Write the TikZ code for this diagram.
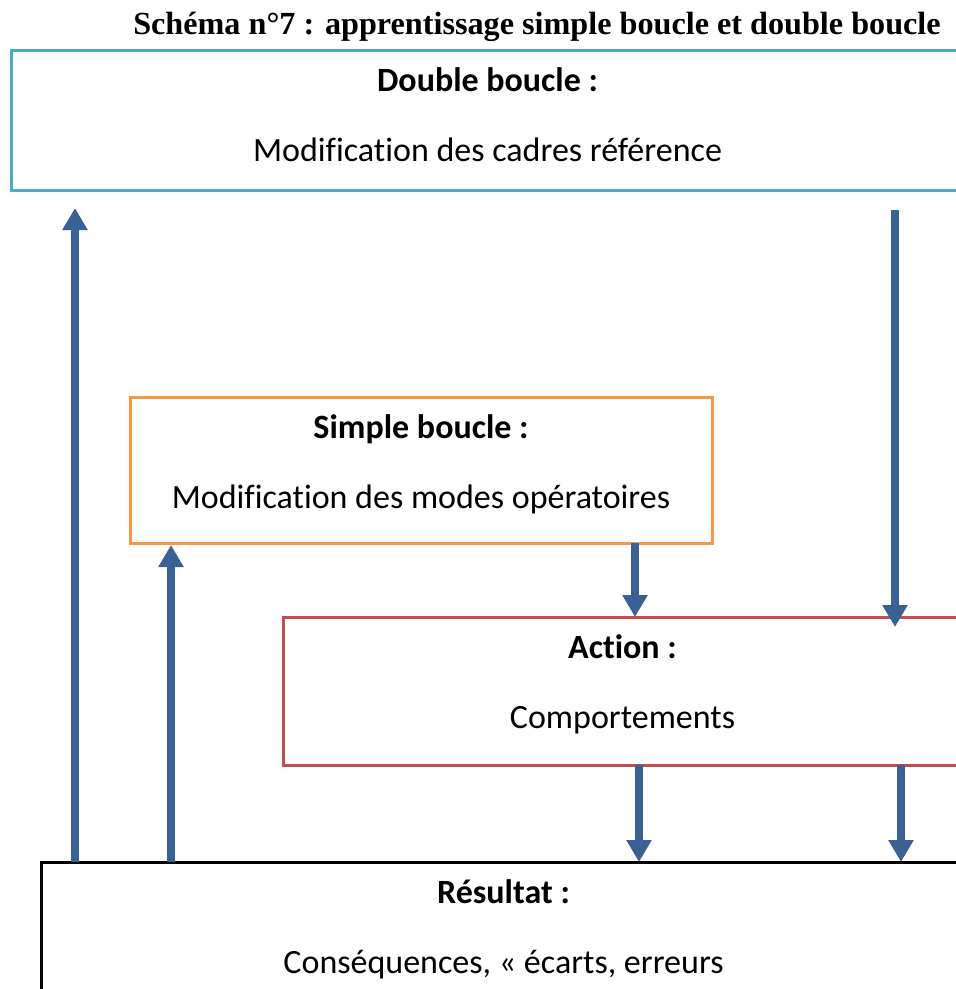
\documentclass[tikz,border=0pt]{standalone}
\usepackage{fontspec}
\setmainfont{Carlito}[Ligatures={NoCommon}]
\newfontfamily\titlefont{Liberation Serif}
\usetikzlibrary{arrows.meta, positioning}
\definecolor{doubleblue}{RGB}{75,172,198}
\definecolor{simpleorange}{RGB}{247,150,70}
\definecolor{actionred}{RGB}{192,80,77}
\definecolor{arrowblue}{RGB}{58,97,148}
\tikzstyle{box} = [draw, rectangle, line width=3pt, outer sep=0pt, inner sep=0pt]
\tikzstyle{head} = [font=\fontsize{34}{40}\selectfont\bfseries, inner sep=0pt]
\tikzstyle{body} = [font=\fontsize{34}{40}\selectfont, inner sep=0pt]
\tikzstyle{title} = [font=\titlefont\fontsize{32.2}{38}\selectfont\bfseries, anchor=base, inner sep=0pt]
\tikzstyle{flow} = [-{Triangle[width=24pt, length=22pt]}, line width=8pt, arrowblue]

\begin{document}
\begin{tikzpicture}[x=1pt, y=-1pt]
    \clip (0,0) rectangle (956,989);

    \node (title) [title] at (537,34) {Schéma n°7 : apprentissage simple boucle et double boucle};

    \node (double) [box, doubleblue, minimum width=953pt, minimum height=140pt] at (487.5,120) {};
    \node (simple) [box, simpleorange, minimum width=582pt, minimum height=146pt] at (421,470) {};
    \node (action) [box, actionred, minimum width=679pt, minimum height=148pt] at (622.5,691) {};
    \node (result) [box, black, minimum width=925pt, minimum height=160pt] at (503.5,942) {};

    % Texts.
    \node (double head) [head, below=41pt of double.north, anchor=base] {Double boucle :};
    \node (double text) [body, below=111pt of double.north, anchor=base] {Modification des cadres référence};
    \node (simple head) [head, below=41pt of simple.north, anchor=base] {Simple boucle :};
    \node (simple text) [body, below=111pt of simple.north, anchor=base] {Modification des modes opératoires};
    \node (action head) [head, below=41pt of action.north, anchor=base] {Action :};
    \node (action text) [body, below=111pt of action.north, anchor=base] {Comportements};
    \node (result head) [head, below=41pt of result.north, anchor=base] {Résultat :};
    \node (result text) [body, below=111pt of result.north, anchor=base] {Conséquences, « écarts, erreurs};

    \foreach \i/\x in {1/75, 2/171, 3/635, 4/895, 5/639, 6/901} {%
        \coordinate (col \i) at (\x,0);
    }

    % Arrows.
    \draw [flow, shorten >=18pt] (col 1 |- result.north) -- (col 1 |- double.south);
    \draw [flow, shorten >=2pt] (col 2 |- result.north) -- (col 2 |- simple.south);
    \draw [flow] (col 3 |- simple.south) -- (col 3 |- action.north);
    \draw [flow, shorten <=20pt, shorten >=-10pt] (col 4 |- double.south) -- (col 4 |- action.north);
    \draw [flow] (col 5 |- action.south) -- (col 5 |- result.north);
    \draw [flow] (col 6 |- action.south) -- (col 6 |- result.north);
\end{tikzpicture}
\end{document}
